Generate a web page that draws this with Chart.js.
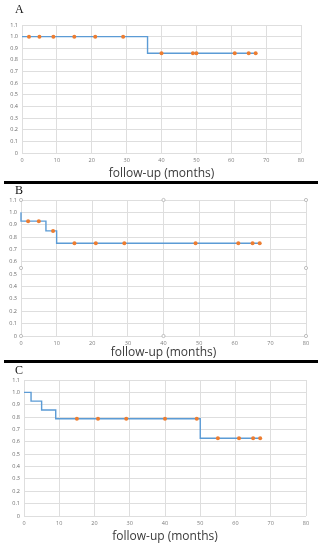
<!DOCTYPE html>
<html>
<head>
<meta charset="utf-8">
<script src="https://cdn.jsdelivr.net/npm/chart.js"></script>
<style>
  body { margin: 0; background: #fff; width: 323px; height: 550px; position: relative; overflow: hidden; }
  .panel { position: absolute; left: 0; width: 323px; }
  .tag { position: absolute; left: 15px; font: 12px "Liberation Serif", serif; color: #111; }
  .rule { position: absolute; left: 4px; width: 314px; height: 3px; background: #000; }
</style>
</head>
<body>
<div class="panel" style="top:0;height:181px"><canvas id="chartA"></canvas></div>
<div class="panel" style="top:184px;height:176px"><canvas id="chartB"></canvas></div>
<div class="panel" style="top:363px;height:187px"><canvas id="chartC"></canvas></div>
<div class="tag" style="top:2px">A</div>
<div class="tag" style="top:183px">B</div>
<div class="tag" style="top:363px">C</div>
<div class="rule" style="top:181px"></div>
<div class="rule" style="top:360px"></div>
<script>
// survival step curves (time in months, survival fraction)
const stepTimesA = [0, 36, 67];
const stepSurvA = [1.0, 0.857, 0.857];
const censTimesA = [2, 5, 9, 15, 21, 29, 40, 49, 50, 61, 65, 67];
const censSurvA = [1.0, 1.0, 1.0, 1.0, 1.0, 1.0, 0.857, 0.857, 0.857, 0.857, 0.857, 0.857];

const stepTimesB = [0, 0, 7, 10, 67];
const stepSurvB = [1.0, 0.929, 0.85, 0.75, 0.75];
const censTimesB = [2, 5, 9, 15, 21, 29, 49, 61, 65, 67];
const censSurvB = [0.929, 0.929, 0.85, 0.75, 0.75, 0.75, 0.75, 0.75, 0.75, 0.75];

const stepTimesC = [0, 2, 5, 9, 50, 67];
const stepSurvC = [1.0, 0.929, 0.857, 0.786, 0.629, 0.629];
const censTimesC = [15, 21, 29, 40, 49, 55, 61, 65, 67];
const censSurvC = [0.786, 0.786, 0.786, 0.786, 0.786, 0.629, 0.629, 0.629, 0.629];

const yTickLabels = ['0', '0.1', '0.2', '0.3', '0.4', '0.5', '0.6', '0.7', '0.8', '0.9', '1.0', '1.1'];
const xTickLabels = ['0', '10', '20', '30', '40', '50', '60', '70', '80'];
const xTitle = 'follow-up (months)';

const pts = (xs, ys) => xs.map((x, i) => ({ x: x, y: ys[i] }));

// little selection handles drawn round panel B's plot area
const handles = {
  id: 'handles',
  afterDraw(chart) {
    const a = chart.chartArea, c = chart.ctx;
    const xs = [a.left, (a.left + a.right) / 2, a.right];
    const ys = [a.top, (a.top + a.bottom) / 2, a.bottom];
    c.save();
    c.strokeStyle = '#b0b0b0';
    c.fillStyle = '#fff';
    c.lineWidth = 0.8;
    xs.forEach((x, i) => ys.forEach((y, j) => {
      if (i === 1 && j === 1) return;
      c.beginPath();
      c.arc(x, y, 1.6, 0, Math.PI * 2);
      c.fill();
      c.stroke();
    }));
    c.restore();
  }
};

function makeChart(id, step, cens, o) {
  new Chart(document.getElementById(id), {
    type: 'line',
    data: {
      datasets: [{
        data: step,
        order: 2,
        stepped: true,
        borderColor: '#5b9bd5',
        borderWidth: 1.4,
        pointRadius: 0,
        fill: false,
        clip: false
      }, {
        data: cens,
        order: 1,
        showLine: false,
        pointRadius: 2,
        pointBackgroundColor: '#ed7d31',
        pointBorderColor: '#ed7d31',
        pointBorderWidth: 0
      }]
    },
    options: {
      responsive: true,
      maintainAspectRatio: false,
      animation: false,
      layout: { padding: { top: o.top, right: o.right, left: 0, bottom: 0 } },
      plugins: { legend: { display: false }, tooltip: { enabled: false } },
      scales: {
        x: {
          type: 'linear', min: 0, max: 80,
          grid: { color: '#dedede', drawTicks: false, lineWidth: 1 },
          border: { display: false },
          ticks: {
            stepSize: 10, padding: 4, color: '#7a7a7a',
            font: { size: 5.5, family: 'Open Sans' },
            callback: (v, i) => xTickLabels[i]
          },
          title: {
            display: true, text: xTitle, color: '#3a3a3a',
            font: { size: 12, family: 'Open Sans' },
            padding: { top: 0, bottom: o.titlePad }
          },
          afterFit: s => { s.height = o.xh; }
        },
        y: {
          min: 0, max: 1.1,
          grid: { color: '#dedede', drawTicks: false, lineWidth: 1 },
          border: { display: false },
          ticks: {
            stepSize: 0.1, padding: 4, color: '#6a6a6a',
            font: { size: 5.5, family: 'Open Sans' },
            callback: (v, i) => yTickLabels[i]
          },
          afterFit: s => { s.width = o.left; }
        }
      }
    },
    plugins: o.handles ? [handles] : []
  });
}

makeChart('chartA', pts(stepTimesA, stepSurvA), pts(censTimesA, censSurvA),
  { top: 25, right: 22, left: 22, xh: 28, titlePad: 0 });
makeChart('chartB', pts(stepTimesB, stepSurvB), pts(censTimesB, censSurvB),
  { top: 16, right: 17, left: 21, xh: 24, titlePad: 0, handles: true });
makeChart('chartC', pts(stepTimesC, stepSurvC), pts(censTimesC, censSurvC),
  { top: 17, right: 17, left: 24, xh: 34, titlePad: 6 });
</script>
</body>
</html>
